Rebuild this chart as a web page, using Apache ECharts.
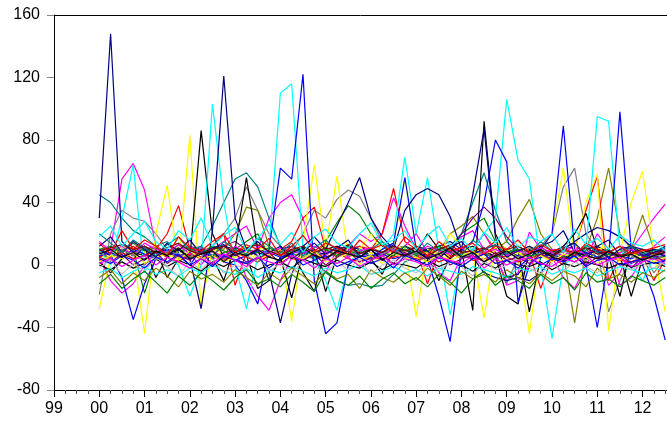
<!DOCTYPE html>
<html>
<head>
<meta charset="utf-8">
<script src="https://cdn.jsdelivr.net/npm/echarts/dist/echarts.min.js"></script>
<style>
html, body { margin: 0; padding: 0; background: #fff; }
#chart { width: 667px; height: 421px; }
</style>
</head>
<body>
<div id="chart"></div>
<script>
// 年份标签 (x 轴)
const yearLabels = ["99", "00", "01", "02", "03", "04", "05", "06", "07", "08", "09", "10", "11", "12"];
const yTicks = [-80, -40, 0, 40, 80, 120, 160];
// quarterly values, first point = 2000Q1
const startYear = 2000;
const step = 0.25;

// 主要的波动序列
const navy1 = [30,148,15,8, 12,5,14,6, 4,-28,22,121, 30,10,6,-4, -37,-6,12,18, 10,25,40,56, 30,18,10,35, 45,49,45,31, 10,45,87,18, -8,-6,4,12, 15,22,8,4, 12,16,6,-2, 5,10,8];
const blue1 = [10,6,-8,-35, -12,4,10,6, 0,10,6,2, 0,-10,-25,10, 62,55,122,-10, -44,-37,0,6, 5,10,14,56, 10,4,-20,-49, 10,15,40,80, 66,-24,0,10, 20,89,10,0, -40,5,98,10, 0,-20,-48];
const cyan1 = [10,0,30,64, -5,10,5,0, -20,0,103,40, 0,-28,5,10, 110,116,10,5, -10,-29,0,10, 5,10,20,69, 20,56,10,-32, 5,10,20,30, 106,67,55,0, -47,0,5,10, 95,92,10,0, -10,5,0];
const magenta1 = [5,10,55,65, 48,12,5,10, 6,0,10,15, 20,25,10,30, 40,45,30,5, -5,10,12,20, 15,20,43,25, 10,5,12,8, 18,22,10,5, -10,-5,21,10, 5,-8,-15,0, 12,-13,-5,10, 20,30,39];
const yellow1 = [-28,5,12,8, -44,20,51,0, 83,-27,10,5, 8,12,4,6, 10,-36,15,64, 10,57,5,0, 8,4,10,12, -33,10,6,20, 12,8,-34,15, 10,5,-44,10, 20,62,6,4, 10,12,8,40, 60,8,-30];
const black1 = [8,4,10,6, 12,-8,5,10, 4,86,20,5, 10,56,10,-10, 5,-21,8,10, -17,6,12,8, 10,4,6,12, 8,20,10,4, 10,-29,92,20, 6,10,-30,5, 8,12,20,33, 10,6,-20,12, 8,10,5];
const teal1 = [45,40,30,22, 18,12,15,8, 10,12,25,40, 55,59,50,30, 12,6,8,4, -5,-10,-13,-12, -14,-13,-6,2, 5,8,10,12, 20,40,59,35, 15,8,5,10, 6,4,8,10, 5,8,12,6, 4,8,6];
const gray1 = [-19,20,35,30, 28,20,10,6, 8,4,12,20, 30,50,35,20, 12,8,20,35, 30,42,48,44, 30,15,10,8, 5,10,12,8, 4,10,20,8, -12,5,10,12, 20,50,62,20, 10,-30,-10,5, 8,-5,4];
const red1 = [5,10,8,12, 6,10,20,38, 10,5,12,20, -13,8,10,6, 10,15,30,37, 10,5,8,12, 10,20,49,15, 10,-12,8,6, 12,8,10,15, 10,5,8,-15, 5,0,10,35, 57,-10,5,8, 6,-10,4];
const olive1 = [5,8,4,10, 12,8,6,10, 5,8,12,10, 20,37,35,12, 8,10,6,4, 8,10,6,10, 4,8,10,12, 10,6,8,20, 25,31,20,10, 15,30,42,20, 10,8,-37,10, 30,62,20,10, 32,10,5];
const green1 = [8,12,6,10, -18,5,10,8, 12,10,5,8, 10,15,20,6, 10,8,12,4, 15,27,38,32, 20,12,8,10, 6,10,12,8, 20,25,30,15, 10,8,12,6, 8,10,5,12, 10,6,8,12, 5,10,8];
const purple1 = [5,8,10,6, 10,12,8,5, 8,10,6,12, 15,10,8,6, 10,12,8,6, 5,8,10,12, 8,6,10,8, 12,10,6,8, 20,30,37,30, 18,10,8,12, 6,10,12,8, 10,8,12,10, 6,8,10];
const magenta2 = [5,-10,-18,-12, 0,8,6,10, 12,8,4,6, 10,-8,-20,-29, -10,5,8,10, 6,12,10,8, 4,6,10,12, 20,8,-5,-10, 5,10,20,8, -13,-10,0,6, 10,8,12,4, 20,10,-13,-8, 5,12,18];
const yellow2 = [4,8,6,10, 8,12,6,5, 10,8,12,6, 5,8,10,12, 6,4,10,8, 12,6,8,10, 20,8,12,55, 10,6,10,5, 8,12,6,10, 10,6,12,8, 5,10,8,40, 58,-42,10,6, 10,6,8];
const navy2 = [10,6,8,4, 12,8,10,6, 8,4,10,12, 10,6,8,5, 10,12,8,6, 8,10,12,10, 6,8,10,12, 8,10,12,15, 10,5,-5,-8, -10,-8,-10,-5, 5,10,15,20, 24,22,18,12, 10,8,12];
const black2 = [2,-5,4,8, 6,10,-8,4, 8,10,5,-10, 12,6,-15,-10, 5,8,-5,-17, 10,12,8,6, 4,-6,10,12, 8,6,-10,5, 10,12,8,6, -20,-25,10,5, 8,6,4,10, 12,8,6,-20, 4,8,6];

// 中间密集的小幅序列
const band1 = [6,8,5,10,7,4,9,6,8,11,5,7,3,6,9,8,5,7,10,6,4,8,6,9,5,7,4,6,8,5,7,9,6,4,7,5,8,6,3,5,7,4,6,8,5,3,6,4,7,5,6];
const band2 = [3,5,8,4,6,9,5,2,7,4,6,3,8,5,2,6,9,4,3,7,5,8,4,2,6,3,5,7,4,6,2,5,8,3,4,6,5,2,4,7,3,5,2,6,4,5,3,2,5,4,3];
const band3 = [10,12,8,14,9,11,7,13,10,8,12,9,6,10,8,11,7,9,12,8,10,6,9,7,11,8,6,10,7,9,12,8,6,9,7,5,8,10,6,7,9,5,8,6,4,7,5,8,6,4,5];
const band4 = [0,-3,2,-2,1,4,-1,3,0,-4,2,-1,3,1,-3,0,2,-2,4,1,-1,3,0,-2,2,-3,1,0,-2,3,-1,2,0,-4,1,-2,3,0,-1,2,-3,1,-1,2,0,-2,1,-1,0,2,-1];
const band5 = [15,9,12,6,14,10,8,13,7,11,9,5,12,8,10,6,11,9,7,12,8,10,5,9,11,7,10,6,8,12,9,7,11,5,8,10,6,9,7,11,8,6,10,7,9,5,8,10,6,8,7];
const band6 = [-5,-2,-8,-4,-1,-6,-3,-7,-2,-5,0,-4,-6,-2,-8,-3,-5,-1,-4,-7,-2,-5,-3,0,-6,-4,-1,-5,-3,-7,-2,-4,-6,-1,-3,-5,-8,-2,-4,-1,-6,-3,-5,-2,-7,-4,-1,-3,-5,-2,-4];
const band7 = [8,4,10,6,12,3,9,7,5,11,8,4,10,6,2,9,7,12,5,8,3,10,6,9,4,7,11,5,8,2,6,10,4,7,9,3,8,5,11,6,4,9,7,3,8,5,10,6,2,7,4];
const band8 = [2,6,4,8,1,5,7,3,9,4,6,2,5,8,3,7,1,6,4,9,2,5,7,3,6,1,8,4,5,2,7,3,6,9,4,1,5,8,3,6,2,7,4,5,1,6,3,8,4,2,5];
const band9 = [12,18,8,15,10,5,14,9,16,7,11,13,6,10,15,8,12,4,9,14,7,11,16,5,10,8,13,6,12,9,4,11,15,7,10,13,5,9,12,8,6,11,14,7,9,5,10,12,6,8,11];
const band10 = [-8,-3,-12,-5,-10,-2,-7,-14,-4,-9,-6,-11,-3,-8,-13,-5,-10,-2,-7,-12,-4,-9,-6,-15,-3,-8,-11,-5,-10,-2,-7,-13,-4,-9,-6,-11,-3,-8,-12,-5,-10,-4,-7,-14,-2,-9,-6,-11,-5,-8,-3];
const band11 = [5,2,7,0,4,8,1,6,3,9,0,5,7,2,4,8,1,6,3,7,0,5,9,2,4,6,1,8,3,5,7,0,4,6,2,8,3,5,1,7,4,2,6,0,5,3,7,1,4,6,2];
const band12 = [20,14,8,16,11,6,13,18,9,12,5,15,10,7,17,12,8,14,6,11,16,9,13,5,10,15,8,12,7,14,9,11,6,16,10,13,7,12,8,15,9,11,6,13,8,10,5,12,7,9,11];
const band13 = [-2,3,-6,1,-4,5,-1,-7,2,-3,4,-5,0,-2,6,-4,1,-6,3,-1,-5,2,-3,4,-6,0,3,-2,-5,1,-4,2,-1,-7,3,-3,0,5,-2,-6,1,-4,2,-1,-5,3,0,-3,1,-2,2];
const band14 = [9,11,13,10,12,8,11,14,9,7,10,12,8,11,13,9,6,10,12,8,11,9,13,7,10,8,12,9,11,6,10,13,8,9,11,7,10,12,8,9,6,10,8,11,7,9,6,8,10,7,9];
const band15 = [4,1,6,3,-2,5,2,7,0,4,-1,6,3,1,5,-2,4,7,0,3,6,-1,2,5,1,4,-2,6,3,0,5,2,-1,4,7,1,3,-2,5,0,4,2,6,-1,3,5,0,2,4,1,3];
const band16 = [14,7,22,10,16,12,6,18,11,9,15,20,8,13,10,17,6,12,19,9,14,11,7,16,10,13,8,18,12,6,15,9,11,14,7,12,10,16,8,13,9,11,6,14,10,8,12,7,9,11,13];
const band17 = [-12,-6,-15,-9,-4,-11,-18,-7,-13,-5,-10,-16,-8,-3,-12,-9,-14,-6,-11,-17,-4,-10,-13,-7,-15,-9,-5,-12,-8,-14,-6,-11,-18,-9,-4,-13,-7,-10,-15,-6,-12,-8,-16,-5,-11,-9,-14,-7,-10,-13,-8];
const band18 = [7,10,5,8,3,9,6,11,4,7,9,2,8,6,10,5,3,8,11,6,4,9,7,5,10,3,8,6,9,4,7,11,5,8,2,6,9,4,7,10,5,3,8,6,4,9,5,7,3,6,8];
const band19 = [1,4,-1,3,6,0,5,2,-2,4,1,7,3,-1,5,2,0,6,3,-2,4,1,5,-1,3,6,0,4,2,-1,5,3,1,6,-2,4,0,3,5,1,-1,4,2,6,0,3,5,-1,2,4,1];
const band20 = [18,25,12,20,28,15,10,22,16,30,12,19,24,9,17,26,13,21,8,18,23,14,11,20,27,13,16,22,10,19,25,12,17,9,21,14,24,11,18,15,20,8,23,13,17,10,19,14,12,16,9];

const palette = ["#0000ff", "#ff0000", "#008000", "#000000", "#ff00ff", "#00ffff", "#808080", "#ffff00",
                 "#000080", "#808000", "#800080", "#008080", "#c0c0c0", "#800000"];

const mainSeries = [
    [magenta1, "#ff00ff"], [gray1, "#808080"], [teal1, "#008080"], [olive1, "#808000"],
    [green1, "#008000"], [purple1, "#800080"], [red1, "#ff0000"], [magenta2, "#ff00ff"],
    [yellow2, "#ffff00"], [navy2, "#000080"], [black2, "#000000"], [yellow1, "#ffff00"],
    [black1, "#000000"], [cyan1, "#00ffff"], [blue1, "#0000ff"], [navy1, "#000080"]
];
const bandSeries = [band1, band2, band3, band4, band5, band6, band7, band8, band9, band10,
    band11, band12, band13, band14, band15, band16, band17, band18, band19, band20];

// x 轴范围 (原图右侧被裁掉, 大约到 2012 年 7 月)
const xMin = 1999;
const xMax = 2012.54;
const yearTicks = yearLabels.map(function (s, k) { return xMin + k; });
let quarterTicks = [];
yearTicks.forEach(function (y) { quarterTicks.push(y + 0.25, y + 0.5, y + 0.75); });
quarterTicks = quarterTicks.filter(function (q) { return q < xMax; });

function makeLine(values, color) {
    return {
        type: "line",
        data: values.map(function (v, i) { return [startYear + i * step, v]; }),
        symbol: "none",
        silent: true,
        lineStyle: { color: color, width: 1.2 },
        itemStyle: { color: color }
    };
}

let series = [];
mainSeries.forEach(function (s) { series.push(makeLine(s[0], s[1])); });
bandSeries.forEach(function (b, k) { series.push(makeLine(b, palette[k % palette.length])); });

const gridTop = 15, gridBottom = 31;
const plotHeight = 421 - gridTop - gridBottom;

let myChart = echarts.init(document.getElementById("chart"));
let option = {
    animation: false,
    grid: { left: 54, right: 0, top: gridTop, bottom: gridBottom, containLabel: false, outerBoundsMode: "none" },
    xAxis: [
        {
            type: "value",
            min: xMin,
            max: xMax,
            interval: 1,
            position: "bottom",
            axisLine: { onZero: false, lineStyle: { color: "#000", width: 1 } },
            axisTick: { length: 7, customValues: yearTicks, lineStyle: { color: "#000" } },
            axisLabel: {
                color: "#000",
                fontSize: 16,
                fontFamily: "Liberation Sans, Arial, sans-serif",
                margin: 11,
                customValues: yearTicks,
                formatter: function (v) {
                    let k = Math.round(v - xMin);
                    return Math.abs(v - xMin - k) < 1e-6 ? (yearLabels[k] || "") : "";
                }
            },
            splitLine: { show: false }
        },
        {
            // 季度小刻度: 顶部轴移到底部, 刻度朝下
            type: "value",
            min: xMin,
            max: xMax,
            position: "top",
            offset: -plotHeight,
            axisLine: { show: false, onZero: false },
            axisTick: { inside: true, length: 4, customValues: quarterTicks, lineStyle: { color: "#555" } },
            axisLabel: { show: false },
            splitLine: { show: false }
        }
    ],
    yAxis: {
        type: "value",
        min: yTicks[0],
        max: yTicks[yTicks.length - 1],
        interval: 40,
        axisLine: { show: true, onZero: false, lineStyle: { color: "#000", width: 1 } },
        axisTick: { show: true, length: 7, lineStyle: { color: "#888" } },
        axisLabel: {
            color: "#000",
            fontSize: 16,
            fontFamily: "Liberation Sans, Arial, sans-serif",
            margin: 14
        },
        // 只画最上面一条 (图框上边)
        splitLine: {
            show: true,
            lineStyle: { color: yTicks.map(function (t, k) { return k === yTicks.length - 1 ? "#000" : "rgba(0,0,0,0)"; }) }
        }
    },
    series: series
};
myChart.setOption(option);
</script>
</body>
</html>
